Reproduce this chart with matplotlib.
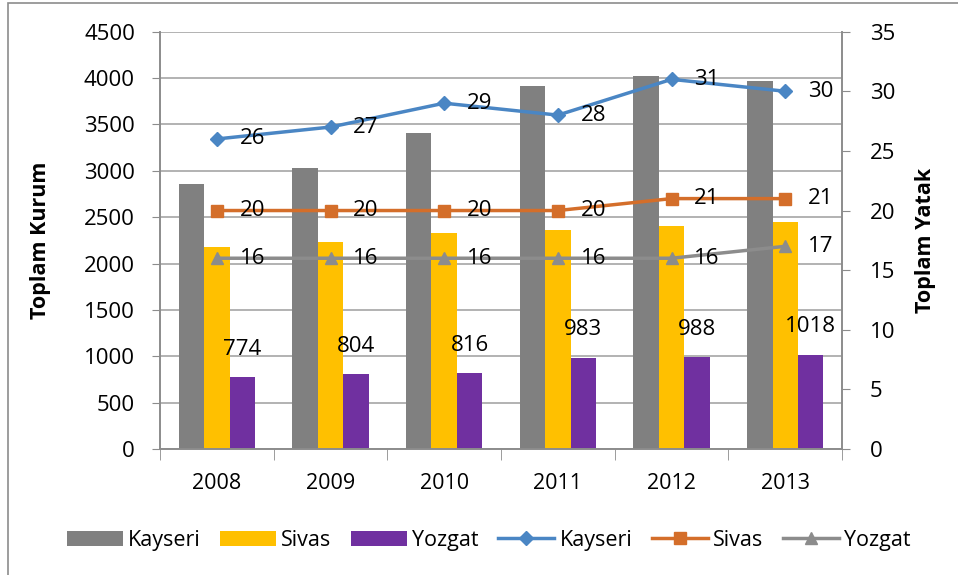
import numpy as np
import matplotlib.pyplot as plt
from matplotlib.patches import Rectangle

plt.rcParams['font.family'] = ['Open Sans', 'DejaVu Sans']

years = ['2008', '2009', '2010', '2011', '2012', '2013']
kurum_kayseri = [2860, 3030, 3410, 3915, 4025, 3970]
kurum_sivas = [2180, 2230, 2330, 2360, 2405, 2450]
kurum_yozgat = [774, 804, 816, 983, 988, 1018]
yatak_kayseri = [26, 27, 29, 28, 31, 30]
yatak_sivas = [20, 20, 20, 20, 21, 21]
yatak_yozgat = [16, 16, 16, 16, 16, 17]

fig = plt.figure(figsize=(9.58, 5.75), dpi=100)
ax = fig.add_axes([0.167, 0.219, 0.712, 0.726])
ax2 = ax.twinx()

# outer chart border
fig.patches.append(Rectangle((0.008, -0.1), 1.1, 1.095, transform=fig.transFigure,
                             fill=False, edgecolor='#8c8c8c', lw=1.2))

x = np.arange(len(years))
w = 0.224
b1 = ax.bar(x - w, kurum_kayseri, w, color='#808080', label='Kayseri', zorder=2)
b2 = ax.bar(x, kurum_sivas, w, color='#FFC000', label='Sivas', zorder=2)
b3 = ax.bar(x + w, kurum_yozgat, w, color='#7030A0', label='Yozgat', zorder=2)

for xi, v in zip(x, kurum_yozgat):
    ax.text(xi + w, v + 190, str(v), ha='center', va='bottom', fontsize=16)

l1, = ax2.plot(x, yatak_kayseri, color='#4A86C4', lw=2.5, marker='D', ms=7, label='Kayseri')
l2, = ax2.plot(x, yatak_sivas, color='#D46E2A', lw=2.5, marker='s', ms=8, label='Sivas')
l3, = ax2.plot(x, yatak_yozgat, color='#8C8C8C', lw=2.5, marker='^', ms=9, label='Yozgat')

for series in (yatak_kayseri, yatak_sivas, yatak_yozgat):
    for xi, v in zip(x, series):
        ax2.text(xi + 0.2, v, str(v), ha='left', va='center', fontsize=16)

ax.set_xlim(-0.5, 5.5)
ax.set_ylim(0, 4500)
ax.set_yticks(np.arange(0, 4501, 500))
ax2.set_ylim(0, 35)
ax2.set_yticks(np.arange(0, 36, 5))

ax.set_xticks(x)
ax.set_xticklabels(years)
ax.set_xticks(np.arange(-0.5, 6, 1), minor=True)
ax.tick_params(axis='x', which='major', length=0, pad=17, labelsize=15.5)
ax.tick_params(axis='x', which='minor', length=8, color='#8c8c8c')
ax.tick_params(axis='y', length=6, color='#8c8c8c', labelsize=16, pad=12)
ax2.tick_params(axis='y', length=6, color='#8c8c8c', labelsize=16, pad=14)

ax.grid(axis='y', color='#a6a6a6', lw=1.2, zorder=0)
ax.set_axisbelow(True)
for a in (ax, ax2):
    a.spines['top'].set_visible(False)
    for s in ('left', 'right', 'bottom'):
        a.spines[s].set_color('#8c8c8c')
        a.spines[s].set_linewidth(1.2)

ax.set_ylabel('Toplam Kurum', fontsize=15.5, fontweight='bold')
ax2.set_ylabel('Toplam Yatak', fontsize=15.5, fontweight='bold')
ax.yaxis.set_label_coords(-0.160, 0.5)
ax2.yaxis.set_label_coords(1.107, 0.5)

fig.legend([b1, b2, b3, l1, l2, l3],
           ['Kayseri', 'Sivas', 'Yozgat', 'Kayseri', 'Sivas', 'Yozgat'],
           loc='center', bbox_to_anchor=(0.51, 0.06), ncol=6, frameon=False,
           fontsize=15.5, handlelength=2.6, handletextpad=0.25, columnspacing=0.9)

fig.savefig('out.png', dpi=100)
